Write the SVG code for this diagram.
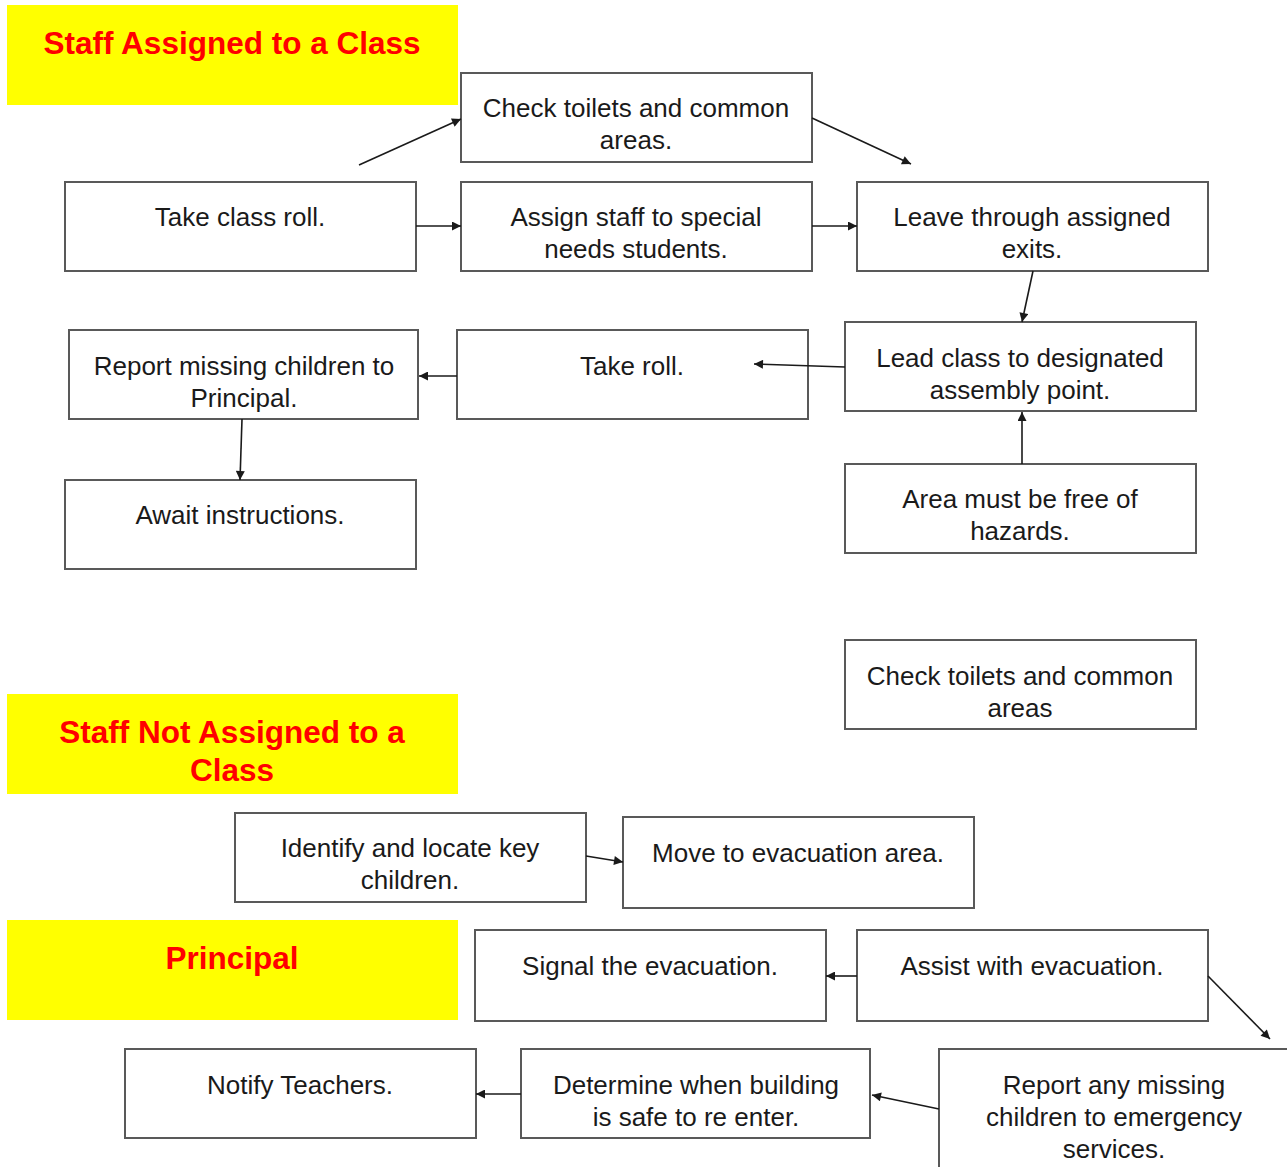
<svg xmlns="http://www.w3.org/2000/svg" width="1287" height="1167" viewBox="0 0 1287 1167">
<style>
.hdr{fill:#ffff00}
.ht{font-family:"Liberation Sans",Arial,sans-serif;font-weight:bold;font-size:31.5px;fill:#ff0000;text-anchor:middle}
.box{fill:#fff;stroke:#595959;stroke-width:2}
.t{font-family:"Liberation Sans",Arial,sans-serif;font-size:26px;fill:#1a1a1a;text-anchor:middle}
.c{stroke:#1a1a1a;stroke-width:1.6;fill:none;marker-end:url(#ah)}
</style>
<defs>
<marker id="ah" viewBox="0 0 10 10" refX="10" refY="5" markerWidth="11" markerHeight="9" markerUnits="userSpaceOnUse" orient="auto">
<path d="M0,0 L10,5 L0,10 z" fill="#1a1a1a"/>
</marker>
</defs>
<rect width="1287" height="1167" fill="#fff"/>
<g id="hdr1"><rect class="hdr" x="7" y="5" width="451" height="100"/><text class="ht" x="232" y="54">Staff Assigned to a Class</text></g>
<g id="hdr2"><rect class="hdr" x="7" y="694" width="451" height="100"/><text class="ht" x="232" y="743">Staff Not Assigned to a</text><text class="ht" x="232" y="781">Class</text></g>
<g id="hdr3"><rect class="hdr" x="7" y="920" width="451" height="100"/><text class="ht" x="232" y="969">Principal</text></g>

<g id="n1"><rect class="box" x="461" y="73" width="351" height="89"/><text class="t" x="636" y="117">Check toilets and common</text><text class="t" x="636" y="149">areas.</text></g>
<g id="n2"><rect class="box" x="65" y="182" width="351" height="89"/><text class="t" x="240" y="226">Take class roll.</text></g>
<g id="n3"><rect class="box" x="461" y="182" width="351" height="89"/><text class="t" x="636" y="226">Assign staff to special</text><text class="t" x="636" y="258">needs students.</text></g>
<g id="n4"><rect class="box" x="857" y="182" width="351" height="89"/><text class="t" x="1032" y="226">Leave through assigned</text><text class="t" x="1032" y="258">exits.</text></g>
<g id="n5"><rect class="box" x="69" y="330" width="349" height="89"/><text class="t" x="244" y="375">Report missing children to</text><text class="t" x="244" y="407">Principal.</text></g>
<g id="n6"><rect class="box" x="457" y="330" width="351" height="89"/><text class="t" x="632" y="375">Take roll.</text></g>
<g id="n7"><rect class="box" x="845" y="322" width="351" height="89"/><text class="t" x="1020" y="367">Lead class to designated</text><text class="t" x="1020" y="399">assembly point.</text></g>
<g id="n8"><rect class="box" x="65" y="480" width="351" height="89"/><text class="t" x="240" y="524">Await instructions.</text></g>
<g id="n9"><rect class="box" x="845" y="464" width="351" height="89"/><text class="t" x="1020" y="508">Area must be free of</text><text class="t" x="1020" y="540">hazards.</text></g>
<g id="n10"><rect class="box" x="845" y="640" width="351" height="89"/><text class="t" x="1020" y="685">Check toilets and common</text><text class="t" x="1020" y="717">areas</text></g>
<g id="n11"><rect class="box" x="235" y="813" width="351" height="89"/><text class="t" x="410" y="857">Identify and locate key</text><text class="t" x="410" y="889">children.</text></g>
<g id="n12"><rect class="box" x="623" y="817" width="351" height="91"/><text class="t" x="798" y="862">Move to evacuation area.</text></g>
<g id="n13"><rect class="box" x="475" y="930" width="351" height="91"/><text class="t" x="650" y="975">Signal the evacuation.</text></g>
<g id="n14"><rect class="box" x="857" y="930" width="351" height="91"/><text class="t" x="1032" y="975">Assist with evacuation.</text></g>
<g id="n15"><rect class="box" x="125" y="1049" width="351" height="89"/><text class="t" x="300" y="1094">Notify Teachers.</text></g>
<g id="n16"><rect class="box" x="521" y="1049" width="349" height="89"/><text class="t" x="696" y="1094">Determine when building</text><text class="t" x="696" y="1126">is safe to re enter.</text></g>
<g id="n17"><rect class="box" x="939" y="1049" width="360" height="130"/><text class="t" x="1114" y="1094">Report any missing</text><text class="t" x="1114" y="1126">children to emergency</text><text class="t" x="1114" y="1158">services.</text></g>

<g id="connectors">
<line class="c" x1="359" y1="165" x2="461" y2="119"/>
<line class="c" x1="812" y1="118" x2="911" y2="164"/>
<line class="c" x1="416" y1="226" x2="461" y2="226"/>
<line class="c" x1="812" y1="226" x2="857" y2="226"/>
<line class="c" x1="1033" y1="271" x2="1022" y2="322"/>
<line class="c" x1="845" y1="367" x2="754" y2="364"/>
<line class="c" x1="457" y1="376" x2="419" y2="376"/>
<line class="c" x1="242" y1="419" x2="240" y2="480"/>
<line class="c" x1="1022" y1="464" x2="1022" y2="412"/>
<line class="c" x1="586" y1="856" x2="623" y2="862"/>
<line class="c" x1="857" y1="976" x2="826" y2="976"/>
<line class="c" x1="1208" y1="976" x2="1270" y2="1039"/>
<line class="c" x1="939" y1="1109" x2="872" y2="1095"/>
<line class="c" x1="521" y1="1094" x2="476" y2="1094"/>
</g>
</svg>
